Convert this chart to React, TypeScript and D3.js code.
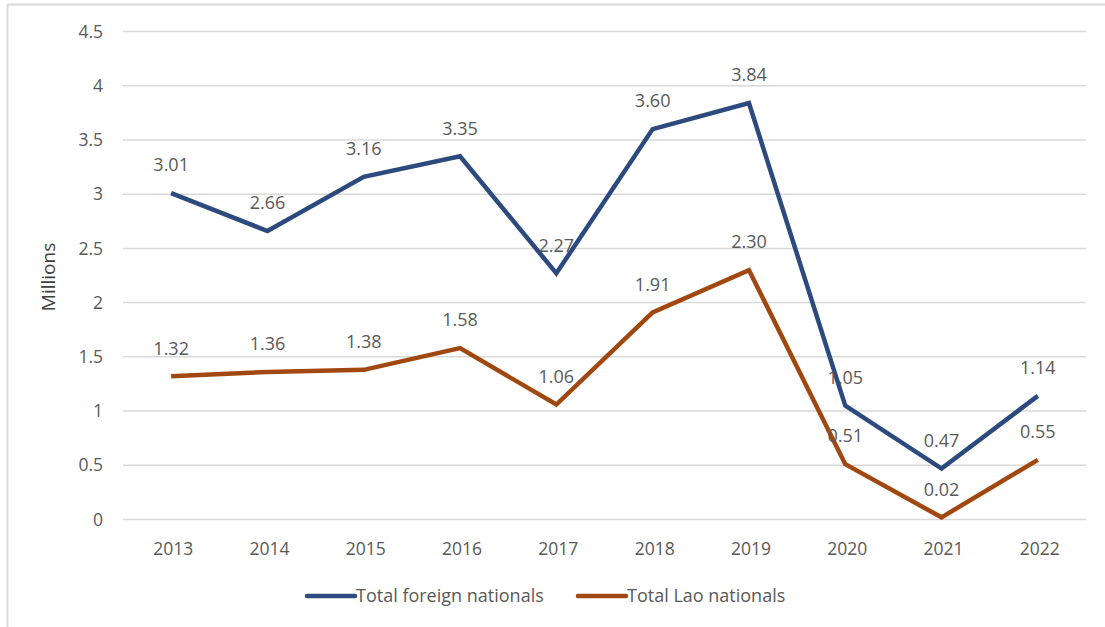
import React from "react";
import * as d3 from "d3";

const years = ["2013", "2014", "2015", "2016", "2017", "2018", "2019", "2020", "2021", "2022"];
const foreign = [3.01, 2.66, 3.16, 3.35, 2.27, 3.6, 3.84, 1.05, 0.47, 1.14];
const lao = [1.32, 1.36, 1.38, 1.58, 1.06, 1.91, 2.3, 0.51, 0.02, 0.55];
const yTicks = [0, 0.5, 1, 1.5, 2, 2.5, 3, 3.5, 4, 4.5];
const seriesNames = ["Total foreign nationals", "Total Lao nationals"];
const colors = ["#2C4A7E", "#A0480F"];

const W = 1105;
const H = 627;
const font = "'Open Sans', sans-serif";
const textColor = "#595959";

const App = () => {
  const x = d3.scaleBand<string>().domain(years).range([123, 1086]);
  const y = d3.scaleLinear().domain([0, 4.5]).range([519.5, 31.5]);
  const line = d3
    .line<number>()
    .x((_, i) => (x(years[i]) as number) + x.bandwidth() / 2)
    .y((d) => y(d));

  const series = [foreign, lao];

  return (
    <svg width={W} height={H} style={{ position: "absolute", left: 0, top: 0, background: "white" }}>
      {/* frame */}
      <line x1={7.5} x2={7.5} y1={4.5} y2={H} stroke="#d9d9d9" strokeWidth={2} />
      <line x1={7.5} x2={W} y1={4.5} y2={4.5} stroke="#d9d9d9" strokeWidth={2} />

      {/* grid + y ticks */}
      {yTicks.map((t) => (
        <g key={t}>
          <line x1={123} x2={1086} y1={y(t)} y2={y(t)} stroke="#d9d9d9" strokeWidth={1.5} />
          <text x={103} y={y(t)} dy="0.35em" textAnchor="end" fontSize={17.5} fontFamily={font} fill={textColor}>
            {t}
          </text>
        </g>
      ))}

      {/* x ticks */}
      {years.map((yr) => (
        <text
          key={yr}
          x={(x(yr) as number) + x.bandwidth() / 2 + 2}
          y={549}
          dy="0.35em"
          textAnchor="middle"
          fontSize={17.5}
          fontFamily={font}
          fill={textColor}
        >
          {yr}
        </text>
      ))}

      <text
        transform="translate(48, 277) rotate(-90)"
        textAnchor="middle"
        dy="0.35em"
        fontSize={19}
        fontFamily={font}
        fill="#404040"
      >
        Millions
      </text>

      {series.map((s, si) => (
        <path
          key={si}
          d={line(s) as string}
          fill="none"
          stroke={colors[si]}
          strokeWidth={4.5}
          strokeLinejoin="miter"
        />
      ))}

      {series.map((s, si) =>
        s.map((v, i) => (
          <text
            key={si + "-" + i}
            x={(x(years[i]) as number) + x.bandwidth() / 2}
            y={y(v) - 28}
            dy="0.35em"
            textAnchor="middle"
            fontSize={18}
            fontFamily={font}
            fill={textColor}
          >
            {v.toFixed(2)}
          </text>
        ))
      )}

      {/* legend */}
      {seriesNames.map((n, i) => {
        const lx = i === 0 ? 307 : 578;
        return (
          <g key={n}>
            <line x1={lx} x2={lx + 48} y1={596} y2={596} stroke={colors[i]} strokeWidth={4.5} strokeLinecap="round" />
            <text x={lx + 49} y={596} dy="0.35em" fontSize={18} fontFamily={font} fill={textColor}>
              {n}
            </text>
          </g>
        );
      })}
    </svg>
  );
};

export default App;
